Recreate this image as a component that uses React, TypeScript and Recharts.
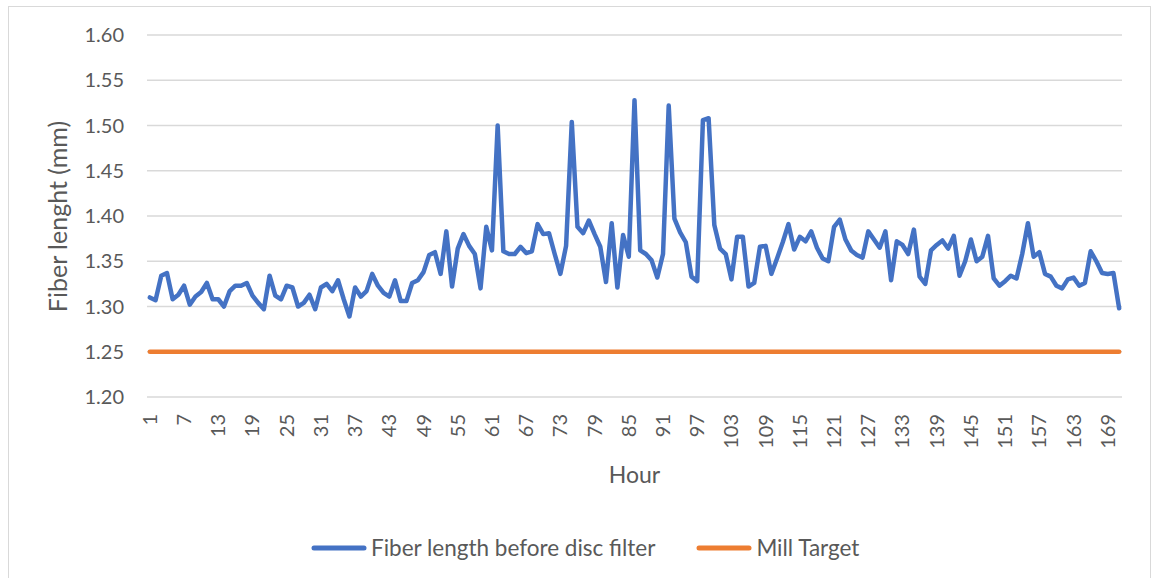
import { CartesianGrid, Legend, Line, LineChart, XAxis, YAxis } from 'recharts'

// hourly fiber length readings before the disc filter (mm)
const fiberLength = [
  1.310, 1.307, 1.334, 1.337, 1.308, 1.313, 1.323, 1.302, 1.311, 1.316,
  1.326, 1.308, 1.308, 1.300, 1.317, 1.323, 1.323, 1.326, 1.312, 1.304,
  1.297, 1.334, 1.312, 1.308, 1.323, 1.321, 1.300, 1.304, 1.313, 1.297,
  1.321, 1.325, 1.317, 1.329, 1.308, 1.289, 1.321, 1.311, 1.317, 1.336,
  1.323, 1.315, 1.311, 1.329, 1.306, 1.306, 1.326, 1.329, 1.338, 1.357,
  1.360, 1.336, 1.383, 1.322, 1.364, 1.380, 1.367, 1.358, 1.320, 1.388,
  1.362, 1.500, 1.361, 1.358, 1.358, 1.366, 1.359, 1.361, 1.391, 1.380,
  1.381, 1.358, 1.336, 1.367, 1.504, 1.388, 1.381, 1.395, 1.380, 1.366,
  1.327, 1.392, 1.321, 1.379, 1.355, 1.528, 1.362, 1.358, 1.351, 1.332,
  1.358, 1.522, 1.397, 1.382, 1.371, 1.333, 1.328, 1.506, 1.508, 1.390,
  1.364, 1.358, 1.330, 1.377, 1.377, 1.322, 1.326, 1.366, 1.367, 1.336,
  1.353, 1.371, 1.391, 1.363, 1.377, 1.372, 1.383, 1.365, 1.353, 1.350,
  1.388, 1.396, 1.374, 1.362, 1.357, 1.354, 1.383, 1.374, 1.365, 1.383,
  1.329, 1.372, 1.368, 1.358, 1.385, 1.333, 1.325, 1.362, 1.368, 1.373,
  1.364, 1.378, 1.334, 1.350, 1.374, 1.350, 1.355, 1.378, 1.331, 1.323,
  1.328, 1.334, 1.331, 1.358, 1.392, 1.355, 1.360, 1.336, 1.333, 1.323,
  1.320, 1.330, 1.332, 1.323, 1.326, 1.361, 1.350, 1.337, 1.336, 1.337,
  1.298,
]

const millTarget = 1.25
const yTicks = [1.2, 1.25, 1.3, 1.35, 1.4, 1.45, 1.5, 1.55, 1.6]

const data = fiberLength.map((v, i) => ({ hour: i + 1, fiber: v, target: millTarget }))

const TEXT = '#595959'
const BLUE = '#4472C4'
const ORANGE = '#ED7D31'
const FONT = 'Lato, "Open Sans", sans-serif'

const HourTick = ({ x, y, payload }: any) => (
  <text
    x={x}
    y={y}
    dy="0.35em"
    transform={`rotate(-90, ${x}, ${y})`}
    textAnchor="end"
    fill={TEXT}
    fontSize={20}
    fontFamily={FONT}
  >
    {payload.value}
  </text>
)

const legendItems = [
  { label: 'Fiber length before disc filter', color: BLUE },
  { label: 'Mill Target', color: ORANGE },
]

const renderLegend = () => (
  <div style={{ display: 'flex', alignItems: 'center', height: 30, fontFamily: FONT, fontSize: 22.5, color: TEXT }}>
    {legendItems.map((item, i) => (
      <div key={item.label} style={{ display: 'flex', alignItems: 'center', marginLeft: i === 0 ? 0 : 41 }}>
        <svg width={56} height={10}>
          <line x1={3} y1={5} x2={53} y2={5} stroke={item.color} strokeWidth={5} strokeLinecap="round" />
        </svg>
        <span style={{ marginLeft: 4, lineHeight: '30px' }}>{item.label}</span>
      </div>
    ))}
  </div>
)

export default function App() {
  return (
    <div
      style={{
        position: 'absolute',
        left: 8,
        top: 6,
        width: 1143,
        height: 590,
        border: '1px solid #d9d9d9',
        boxSizing: 'border-box',
        background: '#fff',
      }}
    >
      <LineChart
        width={1141}
        height={588}
        data={data}
        margin={{ top: 28, right: 28, left: 0, bottom: 32 }}
        style={{ fontFamily: FONT }}
      >
        <CartesianGrid vertical={false} stroke="#d9d9d9" strokeWidth={1.3} />
        <XAxis
          dataKey="hour"
          interval={5}
          height={136}
          axisLine={false}
          tickLine={false}
          tickSize={0}
          tickMargin={17}
          padding={{ left: 2.85, right: 2.85 }}
          tick={<HourTick />}
          label={({ viewBox }: any) => (
            <text
              x={viewBox.x + viewBox.width / 2}
              y={viewBox.y + 86}
              textAnchor="middle"
              fill={TEXT}
              fontSize={23}
              fontFamily={FONT}
            >
              Hour
            </text>
          )}
        />
        <YAxis
          width={138}
          domain={[1.2, 1.6]}
          ticks={yTicks}
          axisLine={false}
          tickLine={false}
          tickSize={0}
          tickMargin={23}
          tickFormatter={(v: number) => v.toFixed(2)}
          tick={{ fill: TEXT, fontSize: 20, fontFamily: FONT }}
          label={() => (
            <text
              x={57.5}
              y={209.5}
              transform="rotate(-90, 57.5, 209.5)"
              textAnchor="middle"
              fill={TEXT}
              fontSize={25}
              fontFamily={FONT}
            >
              Fiber lenght (mm)
            </text>
          )}
        />
        <Legend
          verticalAlign="bottom"
          content={renderLegend}
          wrapperStyle={{ left: 302, width: 620, top: 526 }}
        />
        <Line
          type="linear"
          dataKey="fiber"
          name="Fiber length before disc filter"
          stroke={BLUE}
          strokeWidth={4.5}
          strokeLinejoin="round"
          strokeLinecap="round"
          dot={false}
          activeDot={false}
          isAnimationActive={false}
        />
        <Line
          type="linear"
          dataKey="target"
          name="Mill Target"
          stroke={ORANGE}
          strokeWidth={4.5}
          strokeLinecap="round"
          dot={false}
          activeDot={false}
          isAnimationActive={false}
        />
      </LineChart>
    </div>
  )
}
